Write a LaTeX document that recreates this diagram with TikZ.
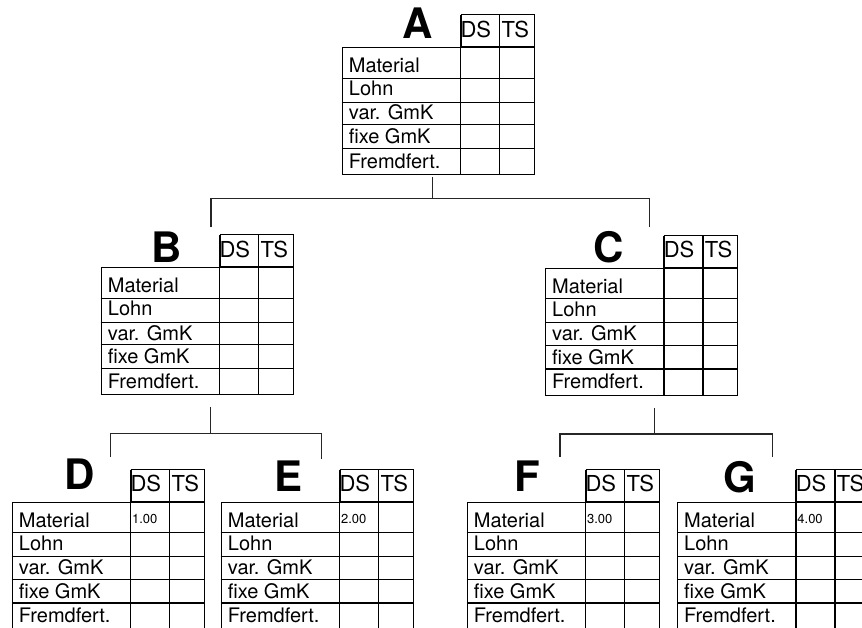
\documentclass[tikz,border=0pt]{standalone}
\usepackage{fontspec}
\setmainfont{TeX Gyre Heros}
\tikzset{
  tabline/.style={line width=1.1pt, black},
  conn/.style={line width=1.1pt, black!85},
  rowlabel/.style={anchor=base west, inner sep=0pt, font=\fontsize{20}{21}\selectfont},
  colhead/.style={anchor=base west, inner sep=0pt, font=\fontsize{22}{23}\selectfont},
  bigletter/.style={anchor=base, inner sep=0pt, font=\fontsize{42}{44}\selectfont\bfseries},
  smallval/.style={anchor=base west, inner sep=0pt, font=\fontsize{13}{14}\selectfont},
  tabframe/.style={draw, line width=1.1pt, inner sep=0pt, anchor=north west},
}
\newcommand{\kosttab}[7]{%
  \begin{scope}[shift={(#2,#3)}]
    \node[tabframe, minimum width=192pt, minimum height=127pt] (#1) at (0,0) {};
    \node[tabframe, minimum width=73pt, minimum height=32pt, anchor=south west] (#1-hd) at (119,0) {};
    \draw[tabline] (119,-32) -- (119,127) (158,-32) -- (158,127);
    \foreach \r in {31,55,77.5,101.3} \draw[tabline] (0,\r) -- (192,\r);
    \node[rowlabel] (#1-r1) at (7,25.4) {Material};
    \node[rowlabel] (#1-r2) at (7,48.4) {Lohn};
    \node[rowlabel] (#1-r3) at (7,72.7) {var. GmK};
    \node[rowlabel] (#1-r4) at (7,96.5) {fixe GmK};
    \node[rowlabel] (#1-r5) at (7,121) {Fremdfert.};
    \node[colhead] (#1-ds) at (118.6,-10) {DS};
    \node[colhead] (#1-ts) at (159.6,-10) {TS};
    \node[bigletter] (#1-let) at (#5,#6) {#4};
    \node[smallval] (#1-val) at (120.2,21.6) {#7};
  \end{scope}}
\begin{document}
\begin{tikzpicture}[x=1pt, y=-1pt]
  \useasboundingbox (0,0) rectangle (862,628);
  \clip (0,0) rectangle (862,628);
  \fill[white] (0,0) rectangle (862,628);

  \kosttab{A}{341.7}{47.3}{A}{76}{-9}{}
  \kosttab{B}{100.7}{267.3}{B}{66.3}{-5}{}
  \kosttab{C}{545}{267.7}{C}{63.3}{-5.2}{}
  \kosttab{D}{11.7}{501.7}{D}{68.3}{-12.4}{1.00}
  \kosttab{E}{220.7}{501.7}{E}{67.6}{-10.5}{2.00}
  \kosttab{F}{466.7}{501.7}{F}{60.6}{-10.7}{3.00}
  \kosttab{G}{677}{501.7}{G}{63}{-9.5}{4.00}

  % connectors A -> B, C
  \coordinate (A-out) at (432.7,177);
  \coordinate (A-bar) at (432.7,198.3);
  \coordinate (B-in) at (211,227.5);
  \coordinate (C-in) at (649.5,227.5);
  \draw[conn] (A-out) -- (A-bar);
  \draw[conn] (B-in) |- (A-bar) -| (C-in);

  % connectors B -> D, E
  \coordinate (B-out) at (210.7,406.7);
  \coordinate (B-bar) at (210.7,433.5);
  \coordinate (D-in) at (110.5,457);
  \coordinate (E-in) at (321.7,459.3);
  \draw[conn] (B-out) -- (B-bar);
  \draw[conn] (D-in) |- (B-bar) -| (E-in);

  % connectors C -> F, G
  \coordinate (C-out) at (654.3,408.3);
  \coordinate (C-bar) at (654.3,434);
  \coordinate (F-in) at (560,456.7);
  \coordinate (G-in) at (772.7,457);
  \draw[conn] (C-out) -- (C-bar);
  \draw[conn] (F-in) |- (C-bar) -| (G-in);
\end{tikzpicture}
\end{document}
